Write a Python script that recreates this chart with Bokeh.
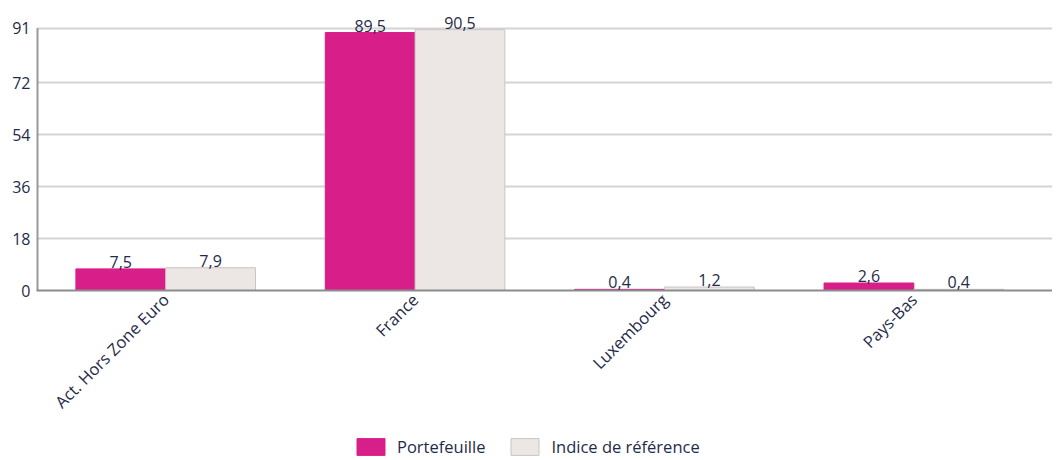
import numpy as np
from math import pi
from bokeh.plotting import figure
from bokeh.layouts import column
from bokeh.models import (ColumnDataSource, FixedTicker, Range1d, Legend, LegendItem,
                          LabelSet)
from bokeh.core.properties import value
from bokeh.embed import file_html
from bokeh.resources import INLINE

categories = ["Act. Hors Zone Euro", "France", "Luxembourg", "Pays-Bas"]
portefeuille = [7.5, 89.5, 0.4, 2.6]
indice = [7.9, 90.5, 1.2, 0.4]
y_ticks = [0, 18, 36, 54, 72, 91]
series_names = ["Portefeuille", "Indice de référence"]

PINK = "#d81e88"
GREY = "#ece7e4"
GREY_LINE = "#c9c4c1"
TEXT = "#1f2b4a"
FONT = "Open Sans"
FS = "16px"
W = 1052
XSTART, XEND = -0.518, 3.556


def fmt(v):
    return f"{v:.1f}".replace(".", ",")


x = np.arange(len(categories), dtype=float)
bw = 0.36
src = ColumnDataSource(dict(
    xp=x - bw / 2, xi=x + bw / 2,
    p=portefeuille, i=indice,
    pl=[fmt(v) for v in portefeuille], il=[fmt(v) for v in indice],
))

p = figure(width=W, height=423, output_backend="svg", toolbar_location=None,
           x_range=Range1d(XSTART, XEND), y_range=Range1d(0, 97.5),
           min_border_left=36, min_border_right=0, min_border_top=9,
           min_border_bottom=133)
p.outline_line_color = None
p.background_fill_color = "white"
p.border_fill_color = "white"

r1 = p.vbar(x="xp", top="p", width=bw, source=src, fill_color=PINK, line_color=PINK,
            line_width=1)
r2 = p.vbar(x="xi", top="i", width=bw, source=src, fill_color=GREY, line_color=GREY_LINE,
            line_width=1)

for xc, tc, yc in (("xp", "pl", "p"), ("xi", "il", "i")):
    p.add_layout(LabelSet(x=xc, y=yc, text=tc, source=src, text_align="center",
                          text_baseline="bottom", y_offset=1, text_font=value(FONT),
                          text_font_size=FS, text_color=TEXT))

# y axis line only up to the top tick
p.segment(x0=[XSTART], y0=[y_ticks[0]], x1=[XSTART], y1=[y_ticks[-1]],
          line_color="#9a9a9a", line_width=4)

# axes
p.xaxis.ticker = FixedTicker(ticks=list(x))
p.xaxis.major_label_overrides = {int(i): c for i, c in enumerate(categories)}
p.xaxis.major_label_orientation = pi / 4
p.xaxis.major_tick_line_color = None
p.xaxis.minor_tick_line_color = None
p.xaxis.axis_line_color = "#8c8c8c"
p.xaxis.axis_line_width = 2
p.xaxis.major_label_text_font = FONT
p.xaxis.major_label_text_font_size = "16.5px"
p.xaxis.major_label_text_color = TEXT
p.xaxis.major_label_standoff = 0

p.yaxis.ticker = FixedTicker(ticks=y_ticks)
p.yaxis.major_tick_line_color = None
p.yaxis.minor_tick_line_color = None
p.yaxis.major_tick_out = 0
p.yaxis.minor_tick_out = 0
p.yaxis.axis_line_color = None
p.yaxis.major_label_text_font = FONT
p.yaxis.major_label_text_font_size = FS
p.yaxis.major_label_text_color = TEXT
p.yaxis.major_label_standoff = 6

p.xgrid.grid_line_color = None
p.ygrid.grid_line_color = "#d4d4d4"
p.ygrid.grid_line_width = 2

# legend in a strip below (its bars fall outside this strip's visible range)
lg = figure(width=W, height=35, output_backend="svg", toolbar_location=None,
            x_axis_type=None, y_axis_type=None, min_border=0,
            x_range=Range1d(XSTART, XEND), y_range=Range1d(1000, 1001))
lg.outline_line_color = None
lg.grid.grid_line_color = None
l1 = lg.vbar(x="xp", top="p", width=bw, source=src, fill_color=PINK, line_color=PINK)
l2 = lg.vbar(x="xi", top="i", width=bw, source=src, fill_color=GREY, line_color=GREY_LINE)
legend = Legend(items=[LegendItem(label=series_names[0], renderers=[l1]),
                       LegendItem(label=series_names[1], renderers=[l2])],
                orientation="horizontal", location=(317, 0),
                glyph_width=35, glyph_height=21, label_text_font=FONT,
                label_text_font_size="16.5px", label_text_color=TEXT,
                spacing=22, label_standoff=9, border_line_color=None,
                background_fill_alpha=0, padding=0, margin=0)
lg.add_layout(legend, "center")

layout = column(p, lg, spacing=0)
open("out.html", "w").write(file_html(layout, INLINE))
